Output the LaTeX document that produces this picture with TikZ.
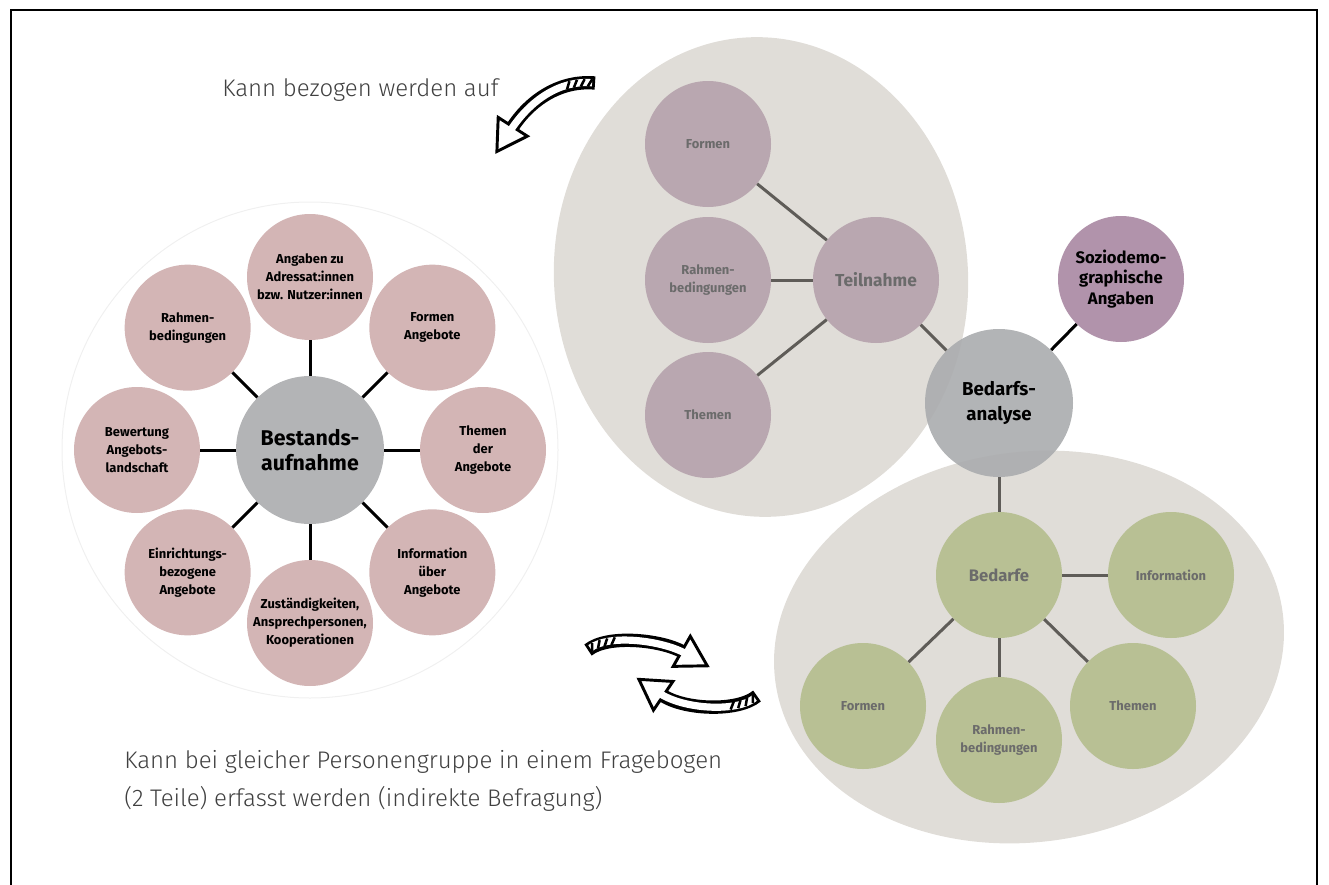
\documentclass[tikz,border=0pt]{standalone}
\usepackage{fontspec}
\setmainfont{Fira Sans}
\newfontfamily\lightfont{Fira Sans Light}
\usetikzlibrary{calc,decorations.markings}

\definecolor{rosa}{HTML}{D3B5B5}
\definecolor{hubgrey}{HTML}{B3B4B6}
\definecolor{hubglass}{HTML}{AAACAE}
\definecolor{groupbg}{HTML}{E0DDD8}
\definecolor{mauve}{HTML}{B9A7B0}
\definecolor{lila}{HTML}{B193AB}
\definecolor{olive}{HTML}{B8C094}
\definecolor{txtgrey}{HTML}{6B6B6B}
\definecolor{linegrey}{HTML}{5F5C58}
\definecolor{notegrey}{HTML}{404040}

\tikzset{
    blob/.style={circle, minimum size=94.5pt, inner sep=0pt, align=center,
        font=\bfseries\fontsize{9.7}{13.5}\selectfont},
    sat/.style={blob, fill=rosa},
    tsat/.style={blob, fill=mauve, text=txtgrey},
    bsat/.style={blob, fill=olive, text=txtgrey},
    hub/.style={circle, minimum size=111pt, inner sep=0pt, align=center},
    spoke/.style={line width=2.25pt},
    gspoke/.style={line width=2.25pt, linegrey},
    note/.style={font=\lightfont\fontsize{18}{28}\selectfont, text=notegrey, inner sep=0pt}
}

% hollow bent arrow, hatched at its tail
\newcommand{\swoosh}[2]{%
    \draw[line width=10pt, postaction={decorate, decoration={markings,
        mark=at position 0.999 with {\draw[line width=2.2pt, fill=white, line join=miter]
            (-1pt,-13pt) -- (21pt,0pt) -- (-1pt,13pt) -- cycle;}}}] #1;
    \draw[white, line width=5.4pt, shorten <=2.2pt, shorten >=-3pt] #1;
    \path[postaction={decorate, decoration={markings,
        mark=between positions 0.05 and #2 step 5.5pt with {\draw[line width=1.9pt]
            (-1.6pt,-2.7pt) -- (1.6pt,2.7pt);}}}] #1;
}

\begin{document}
\begin{tikzpicture}[x=0.75pt, y=-0.75pt]
    \useasboundingbox (0,0) rectangle (1329,885);
    \draw[line width=0.8pt] (11,885) -- (11,10) -- (1317,10) -- (1317,885);

    % groups
    \draw[black!6, line width=0.75pt] (310,450) circle (248);
    \fill[groupbg, rotate around={4:(761,277)}] (761,277) ellipse (207 and 240);
    \fill[groupbg, rotate around={8:(1029,647)}] (1029,647) ellipse (256 and 195);

    % Bestandsaufnahme
    \node[hub, fill=hubgrey, font=\bfseries\fontsize{16}{19}\selectfont] (best) at (310,450) {Bestands-\\aufnahme};
    \foreach \a/\n/\t in {270/sa/{Angaben zu\\Adressat:innen\\bzw. Nutzer:innen},
            315/sf/{Formen\\Angebote}, 0/st/{Themen\\der\\Angebote},
            45/si/{Information\\über\\Angebote}, 90/sz/{Zuständigkeiten,\\Ansprechpersonen,\\Kooperationen},
            135/se/{Einrichtungs-\\bezogene\\Angebote}, 180/sb/{Bewertung\\Angebots-\\landschaft},
            225/sr/{Rahmen-\\bedingungen}}{
        \node[sat] (\n) at ($(best)+(\a:173)$) {\t};
        \draw[spoke] (best) -- (\n);
    }

    % Teilnahme
    \node[tsat, font=\bfseries\fontsize{13}{16}\selectfont] (tn) at (876,280) {Teilnahme};
    \foreach \n/\y/\t in {tf/144/Formen, tr/280/{Rahmen-\\bedingungen}, tt/415/Themen}{
        \node[tsat] (\n) at (708,\y) {\t};
        \draw[gspoke] (tn) -- (\n);
    }

    % Bedarfsanalyse
    \node[blob, fill=lila, font=\bfseries\fontsize{12.5}{15.5}\selectfont] (so) at (1121,279) {Soziodemo-\\graphische\\Angaben};
    \node[bsat, font=\bfseries\fontsize{12.5}{16}\selectfont] (bd) at (999,575) {Bedarfe};
    \foreach \n/\p/\t in {bi/{1171,575}/Information, bf/{863,706}/Formen,
            br/{999,740}/{Rahmen-\\bedingungen}, bt/{1133,706}/Themen}{
        \node[bsat] (\n) at (\p) {\t};
        \draw[gspoke] (bd) -- (\n);
    }
    \node[hub, fill=hubglass, fill opacity=0.9, text opacity=1,
        font=\bfseries\fontsize{14}{19}\selectfont] (ba) at (999,403) {Bedarfs-\\analyse};
    \draw[gspoke] (tn) -- (ba);
    \draw[gspoke] (ba) -- (bd);
    \draw[spoke] (ba) -- (so);

    % notes
    \node[note, anchor=west] (bez) at (222,90) {Kann bezogen werden auf};
    \node[note, anchor=west, align=left] (erf) at (124,781) {Kann bei gleicher Personengruppe in einem Fragebogen\\(2 Teile) erfasst werden (indirekte Befragung)};

    \coordinate (a1) at (595,83);  \coordinate (b1) at (512,128);
    \coordinate (a2) at (588,650); \coordinate (b2) at (683,652);
    \coordinate (a3) at (757,696); \coordinate (b3) at (662,695);
    \swoosh{(a1) .. controls (560,80) and (530,100) .. (b1)}{0.3}
    \swoosh{(a2) .. controls (608,634) and (662,640) .. (b2)}{0.32}
    \swoosh{(a3) .. controls (738,712) and (684,710) .. (b3)}{0.32}
\end{tikzpicture}
\end{document}
